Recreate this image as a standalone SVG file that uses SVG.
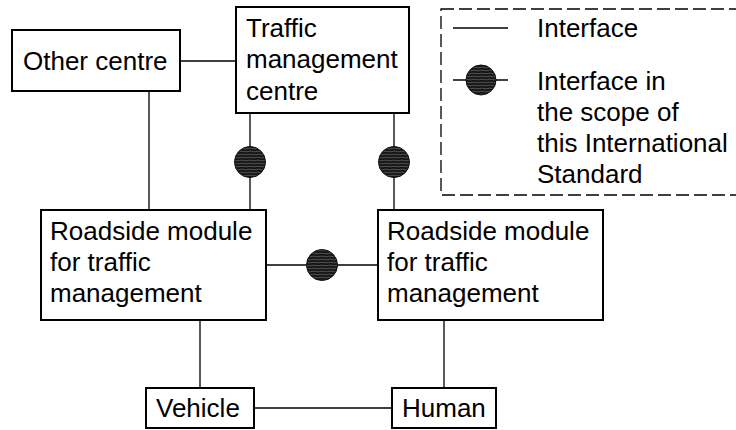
<svg xmlns="http://www.w3.org/2000/svg" width="736" height="430" viewBox="0 0 736 430">
<style>
.box{fill:#fff;stroke:#000;stroke-width:2}
.ln{stroke:#000;stroke-width:1.3;fill:none}
.t{font-family:"Liberation Sans",Arial,sans-serif;font-size:26px;fill:#000}
.dot{fill:url(#hatch);stroke:#111;stroke-width:1}
</style>
<defs>
<pattern id="hatch" patternUnits="userSpaceOnUse" width="8" height="3">
<rect width="8" height="3" fill="#161616"/>
<path d="M0,1.5 Q2,0.8 4,1.5 T8,1.5" stroke="#6a6a6a" stroke-width="0.7" fill="none"/>
</pattern>
</defs>
<rect width="736" height="430" fill="#fff"/>
<g id="connectors">
<line class="ln" x1="180" y1="61" x2="236" y2="61"/>
<line class="ln" x1="149" y1="91" x2="149" y2="210"/>
<line class="ln" x1="250" y1="113" x2="250" y2="210"/>
<line class="ln" x1="394" y1="113" x2="394" y2="210"/>
<line class="ln" x1="266" y1="265" x2="378" y2="265"/>
<line class="ln" x1="200" y1="320" x2="200" y2="388"/>
<line class="ln" x1="444" y1="320" x2="444" y2="388"/>
<line class="ln" x1="254" y1="408" x2="392" y2="408"/>
<circle class="dot" cx="250" cy="162" r="15.5"/>
<circle class="dot" cx="394" cy="162" r="15.5"/>
<circle class="dot" cx="322" cy="265" r="15.5"/>
</g>
<g id="other-centre">
<rect class="box" x="12" y="30" width="168" height="61"/>
<text class="t" x="23" y="70">Other centre</text>
</g>
<g id="traffic-management-centre">
<rect class="box" x="236" y="7" width="173" height="106"/>
<text class="t" x="246" y="37">Traffic</text>
<text class="t" x="246" y="68">management</text>
<text class="t" x="246" y="100">centre</text>
</g>
<g id="roadside-module-1">
<rect class="box" x="41" y="210" width="225" height="110"/>
<text class="t" x="50" y="240">Roadside module</text>
<text class="t" x="50" y="271">for traffic</text>
<text class="t" x="50" y="302">management</text>
</g>
<g id="roadside-module-2">
<rect class="box" x="378" y="210" width="225" height="110"/>
<text class="t" x="387" y="240">Roadside module</text>
<text class="t" x="387" y="271">for traffic</text>
<text class="t" x="387" y="302">management</text>
</g>
<g id="vehicle">
<rect class="box" x="146" y="388" width="108" height="40"/>
<text class="t" x="156" y="417">Vehicle</text>
</g>
<g id="human">
<rect class="box" x="392" y="388" width="104" height="40"/>
<text class="t" x="402" y="417">Human</text>
</g>
<g id="legend">
<rect x="441" y="9" width="310" height="186" fill="none" stroke="#000" stroke-width="1.3" stroke-dasharray="13,5"/>
<line class="ln" x1="453" y1="28" x2="508" y2="28"/>
<text class="t" x="537" y="37">Interface</text>
<line class="ln" x1="453" y1="80" x2="508" y2="80"/>
<circle class="dot" cx="481" cy="80" r="15"/>
<text class="t" x="537" y="90">Interface in</text>
<text class="t" x="537" y="121">the scope of</text>
<text class="t" x="537" y="152">this International</text>
<text class="t" x="537" y="183">Standard</text>
</g>
</svg>
